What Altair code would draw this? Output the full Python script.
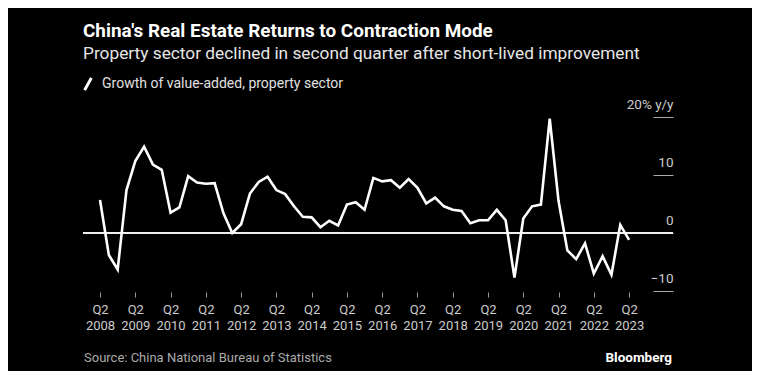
import json
import altair as alt
import pandas as pd

# Quarterly growth of value-added, property sector (% y/y), Q2 2008 .. Q2 2023
growth = [5.7, -3.8, -6.3, 7.4, 12.4, 14.9, 11.8, 10.9, 3.5, 4.4,
          9.8, 8.7, 8.5, 8.6, 3.4, 0.0, 1.5, 6.8, 8.8, 9.7,
          7.4, 6.7, 4.6, 2.8, 2.7, 1.0, 2.1, 1.3, 4.9, 5.3,
          4.0, 9.5, 8.9, 9.1, 7.8, 9.3, 7.8, 5.1, 6.1, 4.6,
          4.0, 3.8, 1.7, 2.2, 2.2, 4.0, 2.2, -7.7, 2.5, 4.6,
          4.9, 19.7, 5.5, -3.0, -4.5, -1.8, -7.0, -4.0, -7.2, 1.4,
          -1.2]
tick_years = ["2008", "2009", "2010", "2011", "2012", "2013", "2014", "2015",
              "2016", "2017", "2018", "2019", "2020", "2021", "2022", "2023"]
tick_quarter = "Q2"
y_ticks = [-10, 0, 10, 20]
series_name = "Growth of value-added, property sector"
title_text = "China's Real Estate Returns to Contraction Mode"
subtitle_text = "Property sector declined in second quarter after short-lived improvement"
source_text = "Source: China National Bureau of Statistics"
brand_text = "Bloomberg"

FONT = "Roboto"

df = pd.DataFrame({"idx": list(range(len(growth))), "growth": growth,
                   "series": [series_name] * len(growth)})

x_ticks = [i * 4 for i in range(len(tick_years))]
x_scale = alt.Scale(domain=[-1.93, 64.98], nice=False, zero=False)
y_scale = alt.Scale(domain=[-10, 20], nice=False, zero=False)

x_label_expr = f"['{tick_quarter}', {json.dumps(tick_years)}[round(datum.value / 4)]]"

x_axis = alt.Axis(values=x_ticks, labelExpr=x_label_expr, orient="bottom",
                  offset=1, tickSize=5, tickColor="#999999", tickWidth=1,
                  domain=False, grid=False, labelColor="#cccccc",
                  labelFont=FONT, labelFontSize=13, labelPadding=6,
                  labelLineHeight=16, labelBaseline="top", title=None,
                  labelFlush=False)

y_axis = alt.Axis(values=y_ticks, orient="right", offset=-20, tickSize=20,
                  tickColor="#aaaaaa", tickWidth=1, domain=False, grid=False,
                  labelAlign="right", labelPadding=0, labelBaseline="alphabetic",
                  labelOffset=-8.5, labelFlush=False, labelColor="#cccccc",
                  labelFont=FONT, labelFontSize=13.5, title=None,
                  labelExpr="datum.value == 20 ? '20% y/y' : datum.label")

base = alt.Chart(df)

zero = base.mark_rule(color="#f0f0f0", strokeWidth=1).encode(
    y=alt.datum(0, scale=y_scale, axis=y_axis)
)

line = base.mark_line(strokeWidth=2.6, strokeJoin="miter").encode(
    x=alt.X("idx:Q", scale=x_scale, axis=x_axis),
    y=alt.Y("growth:Q", scale=y_scale, axis=y_axis),
    color=alt.Color("series:N", scale=alt.Scale(range=["#ffffff"]),
                    legend=alt.Legend(orient="none", legendX=-3, legendY=-41,
                                      title=None, symbolType="M-0.55,1L0.55,-1",
                                      symbolSize=150, symbolStrokeWidth=3,
                                      labelFont=FONT, labelFontSize=14,
                                      labelColor="#e0e0e0", labelOffset=6,
                                      labelLimit=0)),
)

foot_df = pd.DataFrame({"source": [source_text], "brand": [brand_text]})
source = alt.Chart(foot_df).mark_text(align="left", baseline="middle", font=FONT,
                                      fontSize=13, color="#aaaaaa").encode(
    text="source:N", x=alt.value(1), y=alt.value(241))
brand = alt.Chart(foot_df).mark_text(align="right", baseline="middle", font=FONT,
                                     fontSize=13.5, fontWeight="bold",
                                     color="#ffffff").encode(
    text="brand:N", x=alt.value(589), y=alt.value(241))

chart = alt.layer(zero, line, source, brand).properties(
    width=590, height=174,
    autosize=alt.AutoSizeParams(type="none"),
    padding={"left": 75, "top": 109, "right": 79, "bottom": 80},
    background="#000000",
    title=alt.TitleParams(text=title_text, subtitle=subtitle_text, anchor="start",
                          frame="group", font=FONT, fontSize=18.9, fontWeight="bold",
                          color="#ffffff", subtitleFont=FONT, subtitleFontSize=17.3,
                          subtitleColor="#e6e6e6", subtitlePadding=4, offset=14),
).configure_view(stroke=None)

chart.save("out.html", embed_options={"renderer": "svg", "actions": False})
